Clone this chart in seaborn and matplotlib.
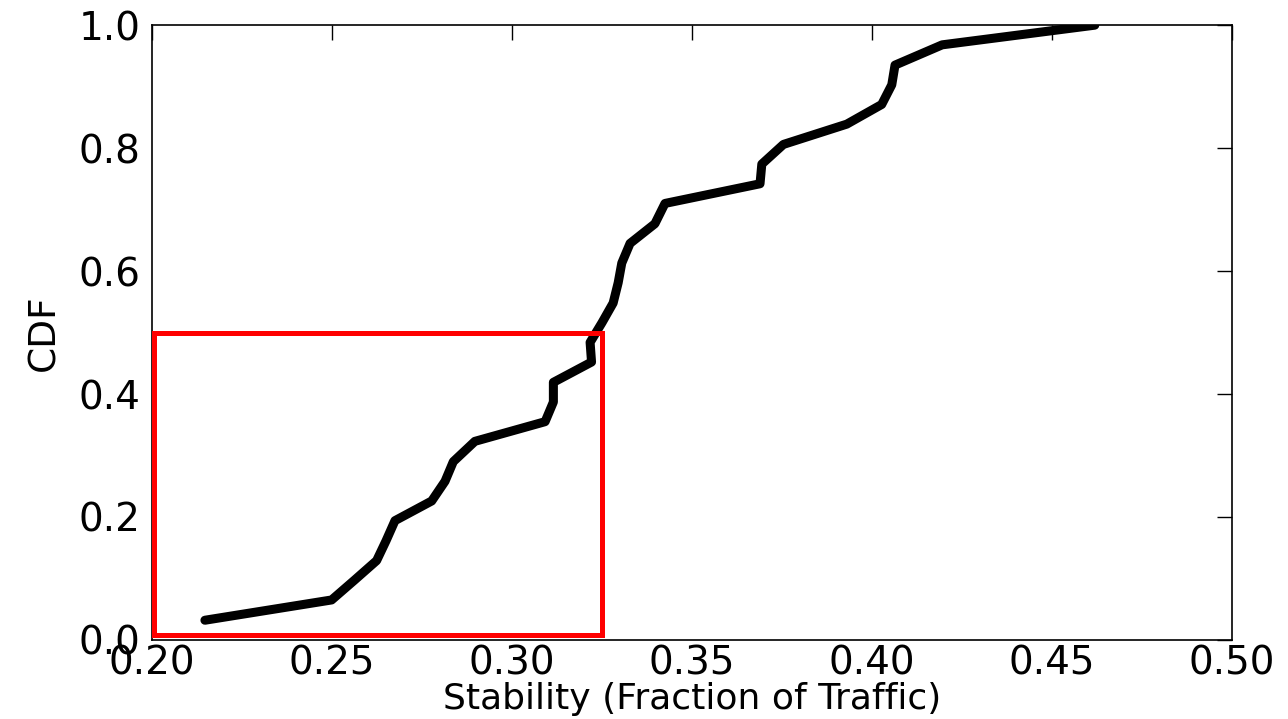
import numpy as np
import pandas as pd
import matplotlib
matplotlib.use("Agg")
import matplotlib.pyplot as plt
import seaborn as sns
from matplotlib.patches import Rectangle

# points of the CDF curve
stability = [0.2147, 0.2499, 0.2562, 0.2624, 0.2650, 0.2675, 0.2777, 0.2814,
             0.2837, 0.2897, 0.3092, 0.3115, 0.3115, 0.3221, 0.3217, 0.3250,
             0.3281, 0.3295, 0.3305, 0.3328, 0.3397, 0.3425, 0.3689, 0.3694,
             0.3754, 0.3930, 0.4027, 0.4055, 0.4064, 0.4195, 0.4619]
cdf = [0.032, 0.065, 0.097, 0.129, 0.161, 0.194, 0.226, 0.258,
       0.290, 0.323, 0.355, 0.387, 0.419, 0.452, 0.484, 0.516,
       0.548, 0.581, 0.613, 0.645, 0.677, 0.710, 0.742, 0.774,
       0.806, 0.839, 0.871, 0.903, 0.935, 0.968, 1.000]

xticks = [0.20, 0.25, 0.30, 0.35, 0.40, 0.45, 0.50]
yticks = [0.0, 0.2, 0.4, 0.6, 0.8, 1.0]

# highlighted region (x0, y0, x1, y1)
box = (0.2005, 0.008, 0.3250, 0.500)

df = pd.DataFrame({"x": stability, "y": cdf})

sns.set_style("white")
plt.rcParams['font.family'] = ['DejaVu Sans']
plt.rcParams['text.color'] = 'black'
plt.rcParams['axes.labelcolor'] = 'black'

fig = plt.figure(figsize=(12.88, 7.19), dpi=100)
ax = fig.add_axes([0.118, 0.110, 0.8385, 0.855])

sns.lineplot(data=df, x="x", y="y", sort=False, estimator=None,
             color="black", linewidth=6.5, ax=ax)

ax.add_patch(Rectangle((box[0], box[1]), box[2] - box[0], box[3] - box[1],
                       fill=False, edgecolor="red", linewidth=3.6, zorder=3))

ax.set_xlim(0.20, 0.50)
ax.set_ylim(0.0, 1.0)
ax.set_xticks(xticks)
ax.set_yticks(yticks)
ax.set_xticklabels([f"{t:.2f}" for t in xticks])
ax.set_yticklabels([f"{t:.1f}" for t in yticks])
ax.tick_params(direction="in", length=11, width=1, top=True, right=True,
               labelsize=28, pad=8, colors="black")
ax.tick_params(axis="x", pad=3)

for s in ax.spines.values():
    s.set_color("black")
    s.set_linewidth(1.2)

ax.set_xlabel("Stability (Fraction of Traffic)", fontsize=26, labelpad=0)
ax.set_ylabel("CDF", fontsize=27, labelpad=12)

fig.savefig("out.png", dpi=100, facecolor="white")
